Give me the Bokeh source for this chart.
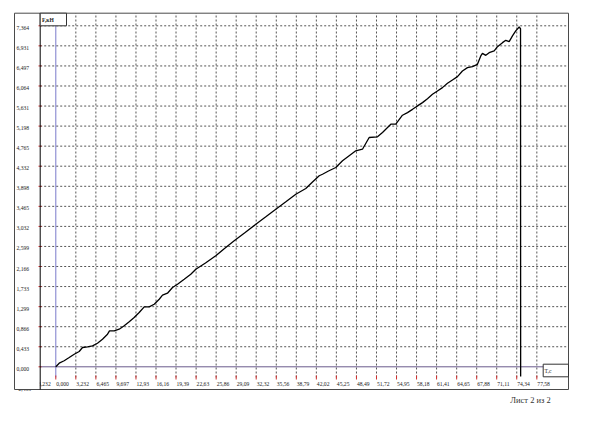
from bokeh.plotting import figure
from bokeh.models import Range1d
from bokeh.core.properties import value
from bokeh.embed import file_html
from bokeh.resources import INLINE

# ---- data ----
time_s = [0.0, 0.55, 1.35, 2.16, 2.97, 3.77, 4.31, 5.11, 5.92, 6.72, 7.53, 8.34,
          8.66, 9.42, 10.22, 11.03, 11.84, 12.64, 13.45, 14.26, 15.06, 15.87, 16.68,
          17.21, 18.01, 18.82, 19.63, 20.71, 21.77, 22.58, 24.14, 25.80, 27.21, 28.77,
          30.43, 32.26, 33.82, 35.48, 37.05, 38.71, 40.32, 41.40, 42.48, 43.01, 43.98,
          45.16, 46.24, 47.37, 48.38, 49.46, 50.54, 51.88, 52.69, 54.03, 54.83, 55.91,
          56.72, 57.53, 58.33, 59.14, 59.94, 60.75, 61.55, 62.36, 63.17, 63.97, 64.78,
          65.58, 66.39, 67.20, 68.00, 68.54, 68.81, 69.35, 69.89, 70.70, 71.23, 72.04,
          72.57, 73.12, 73.65, 74.18, 74.73, 74.95, 74.97]
force_kn = [0.0, 0.078, 0.13, 0.20, 0.272, 0.33, 0.417, 0.432, 0.453, 0.509, 0.596,
            0.704, 0.777, 0.777, 0.812, 0.885, 0.971, 1.064, 1.172, 1.295, 1.295, 1.351,
            1.459, 1.546, 1.589, 1.712, 1.783, 1.891, 1.999, 2.108, 2.242, 2.397, 2.555,
            2.721, 2.889, 3.079, 3.235, 3.403, 3.559, 3.727, 3.850, 3.991, 4.125, 4.159,
            4.228, 4.304, 4.449, 4.563, 4.665, 4.699, 4.952, 4.967, 5.06, 5.239, 5.239,
            5.433, 5.489, 5.56, 5.634, 5.705, 5.791, 5.884, 5.957, 6.029, 6.122, 6.195,
            6.266, 6.389, 6.46, 6.482, 6.532, 6.713, 6.769, 6.726, 6.784, 6.821, 6.914,
            7.0, 7.05, 7.022, 7.145, 7.253, 7.339, 7.30, -0.21]

y_ticks = [-0.433, 0.0, 0.433, 0.866, 1.299, 1.733, 2.166, 2.599, 3.032, 3.465,
           3.898, 4.332, 4.765, 5.198, 5.631, 6.064, 6.497, 6.931, 7.364]
y_labels = ["-0,433", "0,000", "0,433", "0,866", "1,299", "1,733", "2,166", "2,599",
            "3,032", "3,465", "3,898", "4,332", "4,765", "5,198", "5,631", "6,064",
            "6,497", "6,931", "7,364"]
x_ticks = [-3.232, 0.0, 3.232, 6.465, 9.697, 12.93, 16.16, 19.39, 22.63, 25.86, 29.09,
           32.32, 35.56, 38.79, 42.02, 45.25, 48.49, 51.72, 54.95, 58.18, 61.41, 64.65,
           67.88, 71.11, 74.34, 77.58]
x_labels = ["-3,232", "0,000", "3,232", "6,465", "9,697", "12,93", "16,16", "19,39",
            "22,63", "25,86", "29,09", "32,32", "35,56", "38,79", "42,02", "45,25",
            "48,49", "51,72", "54,95", "58,18", "61,41", "64,65", "67,88", "71,11",
            "74,34", "77,58"]
x_title = "T,c"
y_title = "F,кН"
footer = "Лист 2 из 2"

# ---- layout helpers (page pixel -> data); used only for frame decorations ----
W, H = 584, 408
PAGE = 8
X0_PX, Y0_PX = 63.3, 374.3          # page pixel of (0, 0)
DX = 3.232 / 20.04                  # data per pixel, x
DY = 7.364 / 341.0                  # data per pixel, y


def px_x(px):
    return (px - X0_PX) * DX


def px_y(py):
    return (Y0_PX - py) * DY


BOX_L, BOX_R, BOX_T, BOX_B = px_x(22), px_x(576), px_y(20.7), px_y(397)
AX_X = px_x(47.7)        # y axis line
GRID_B = px_y(385)       # lower end of the grid

FONT = "Liberation Serif"
SERIF = value(FONT)
LBL = value("5.6px")

p = figure(width=W, height=H, output_backend="svg", toolbar_location=None,
           x_range=Range1d(px_x(PAGE), px_x(W + PAGE)),
           y_range=Range1d(px_y(H + PAGE), px_y(PAGE)),
           min_border=0, background_fill_color="white", border_fill_color="white")
p.outline_line_color = None
p.axis.visible = False
p.grid.visible = False

# dotted grid
gx = [t for t in x_ticks if t > 0]
gy = [t for t in y_ticks if t > 0]
p.segment(x0=gx, y0=[GRID_B] * len(gx), x1=gx, y1=[BOX_T] * len(gx),
          line_color="#555555", line_width=1, line_dash="2 2")
p.segment(x0=[AX_X] * len(gy), y0=gy, x1=[BOX_R] * len(gy), y1=gy,
          line_color="#555555", line_width=1, line_dash="2 2")

# zero lines
p.segment(x0=[0], y0=[GRID_B], x1=[0], y1=[BOX_T], line_color="#7b7bcb", line_width=1)
p.segment(x0=[AX_X], y0=[0], x1=[BOX_R], y1=[0], line_color="#6a5a8c", line_width=1)

# curve
p.line(time_s, force_kn, line_color="black", line_width=1.3)

# tick marks (red)
tx = [t for t in x_ticks if t >= 0]
p.segment(x0=tx, y0=[px_y(383)] * len(tx), x1=tx, y1=[px_y(387)] * len(tx),
          line_color="#d03030", line_width=1)
ty = [t for t in y_ticks if t >= 0]
p.segment(x0=[px_x(46)] * len(ty), y0=ty, x1=[px_x(49)] * len(ty), y1=ty,
          line_color="#d03030", line_width=1)

# tick labels
p.text(x=x_ticks, y=[px_y(391.7)] * len(x_ticks), text=x_labels, x_offset=0.5,
       text_align="left", text_baseline="middle", text_font=SERIF,
       text_font_size=LBL, text_color="#222222")
p.text(x=[px_x(24)] * len(y_ticks), y=y_ticks, text=y_labels,
       text_align="left", text_baseline="top", text_font=SERIF,
       text_font_size=LBL, text_color="#222222")

# white cover left of the y axis inside the label band
p.quad(left=[px_x(22.5)], right=[px_x(47.3)], top=[px_y(385.5)], bottom=[px_y(396.6)],
       fill_color="white", line_color=None)

# outer frame and y axis line
p.quad(left=[BOX_L], right=[BOX_R], top=[BOX_T], bottom=[BOX_B],
       fill_color=None, line_color="#4a4a4a", line_width=1)
p.segment(x0=[AX_X], y0=[BOX_B], x1=[AX_X], y1=[BOX_T], line_color="black", line_width=1)

# axis title boxes
p.quad(left=[AX_X], right=[px_x(74)], top=[BOX_T], bottom=[y_ticks[-1]],
       fill_color="white", line_color="#333333", line_width=1)
p.text(x=[px_x(49.5)], y=[px_y(27.2)], text=[y_title], text_align="left",
       text_baseline="middle", text_font=SERIF, text_font_size=LBL,
       text_font_style="bold", text_color="#222222")
p.quad(left=[px_x(550.7)], right=[BOX_R], top=[px_y(371.7)], bottom=[px_y(384.3)],
       fill_color="white", line_color="#333333", line_width=1)
p.text(x=[px_x(552)], y=[px_y(378.2)], text=[x_title], text_align="left",
       text_baseline="middle", text_font=SERIF, text_font_size=LBL,
       text_color="#222222")

# page footer
p.text(x=[px_x(538)], y=[px_y(407)], text=[footer], text_align="center",
       text_baseline="middle", text_font=SERIF, text_font_size=value("8.5px"),
       text_color="#333333")

open("out.html", "w").write(file_html(p, INLINE))
